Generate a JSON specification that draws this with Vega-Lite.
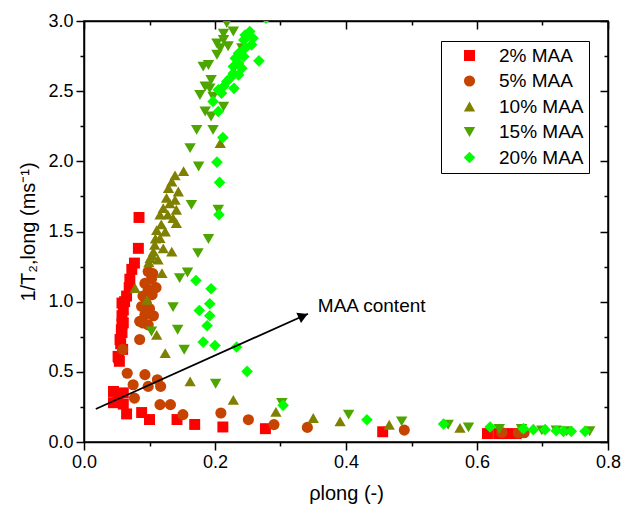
{
  "$schema": "https://vega.github.io/schema/vega-lite/v6.json",
  "width": 524,
  "height": 421,
  "autosize": {"type": "none"},
  "padding": {"left": 84, "top": 21, "right": 13, "bottom": 70},
  "background": "white",
  "config": {
    "font": "Liberation Sans",
    "view": {"stroke": "black", "strokeWidth": 1.5},
    "axis": {"grid": false, "domainColor": "black", "domainWidth": 1.5, "tickColor": "black", "tickWidth": 1.5, "labelColor": "black", "titleColor": "black", "labelFontSize": 18, "titleFontSize": 20, "titleFontWeight": "normal", "labelOverlap": false, "labelFlush": false}
  },
  "datasets": {
    "pts": [
      {"s":"2% MAA","x":0.084,"y":1.60},{"s":"2% MAA","x":0.083,"y":1.38},{"s":"2% MAA","x":0.077,"y":1.275},{"s":"2% MAA","x":0.073,"y":1.23},{"s":"2% MAA","x":0.070,"y":1.16},{"s":"2% MAA","x":0.069,"y":1.10},{"s":"2% MAA","x":0.065,"y":1.04},{"s":"2% MAA","x":0.062,"y":1.00},{"s":"2% MAA","x":0.058,"y":0.99},{"s":"2% MAA","x":0.060,"y":0.94},{"s":"2% MAA","x":0.058,"y":0.90},{"s":"2% MAA","x":0.060,"y":0.85},{"s":"2% MAA","x":0.058,"y":0.84},{"s":"2% MAA","x":0.057,"y":0.80},{"s":"2% MAA","x":0.058,"y":0.78},{"s":"2% MAA","x":0.055,"y":0.73},{"s":"2% MAA","x":0.056,"y":0.70},{"s":"2% MAA","x":0.059,"y":0.66},{"s":"2% MAA","x":0.052,"y":0.61},{"s":"2% MAA","x":0.053,"y":0.60},{"s":"2% MAA","x":0.054,"y":0.575},{"s":"2% MAA","x":0.045,"y":0.36},{"s":"2% MAA","x":0.060,"y":0.35},{"s":"2% MAA","x":0.052,"y":0.30},{"s":"2% MAA","x":0.045,"y":0.28},{"s":"2% MAA","x":0.060,"y":0.27},{"s":"2% MAA","x":0.065,"y":0.20},{"s":"2% MAA","x":0.088,"y":0.21},{"s":"2% MAA","x":0.100,"y":0.16},{"s":"2% MAA","x":0.142,"y":0.16},{"s":"2% MAA","x":0.169,"y":0.125},{"s":"2% MAA","x":0.212,"y":0.107},{"s":"2% MAA","x":0.277,"y":0.095},{"s":"2% MAA","x":0.456,"y":0.073},{"s":"2% MAA","x":0.616,"y":0.06},{"s":"2% MAA","x":0.633,"y":0.06},{"s":"2% MAA","x":0.645,"y":0.06},{"s":"2% MAA","x":0.660,"y":0.06},
      {"s":"5% MAA","x":0.098,"y":1.215},{"s":"5% MAA","x":0.103,"y":1.16},{"s":"5% MAA","x":0.093,"y":1.13},{"s":"5% MAA","x":0.098,"y":1.085},{"s":"5% MAA","x":0.105,"y":1.20},{"s":"5% MAA","x":0.110,"y":1.10},{"s":"5% MAA","x":0.090,"y":1.04},{"s":"5% MAA","x":0.104,"y":1.05},{"s":"5% MAA","x":0.095,"y":0.99},{"s":"5% MAA","x":0.100,"y":0.95},{"s":"5% MAA","x":0.088,"y":0.966},{"s":"5% MAA","x":0.093,"y":0.907},{"s":"5% MAA","x":0.106,"y":0.90},{"s":"5% MAA","x":0.090,"y":0.848},{"s":"5% MAA","x":0.085,"y":0.86},{"s":"5% MAA","x":0.098,"y":0.835},{"s":"5% MAA","x":0.085,"y":0.73},{"s":"5% MAA","x":0.059,"y":0.66},{"s":"5% MAA","x":0.066,"y":0.49},{"s":"5% MAA","x":0.093,"y":0.48},{"s":"5% MAA","x":0.112,"y":0.444},{"s":"5% MAA","x":0.075,"y":0.408},{"s":"5% MAA","x":0.098,"y":0.396},{"s":"5% MAA","x":0.117,"y":0.396},{"s":"5% MAA","x":0.077,"y":0.313},{"s":"5% MAA","x":0.116,"y":0.266},{"s":"5% MAA","x":0.132,"y":0.266},{"s":"5% MAA","x":0.151,"y":0.195},{"s":"5% MAA","x":0.209,"y":0.207},{"s":"5% MAA","x":0.251,"y":0.159},{"s":"5% MAA","x":0.290,"y":0.124},{"s":"5% MAA","x":0.341,"y":0.104},{"s":"5% MAA","x":0.489,"y":0.085},{"s":"5% MAA","x":0.638,"y":0.068},{"s":"5% MAA","x":0.663,"y":0.064},{"s":"5% MAA","x":0.672,"y":0.066},
      {"s":"10% MAA","x":0.152,"y":1.93},{"s":"10% MAA","x":0.139,"y":1.90},{"s":"10% MAA","x":0.134,"y":1.856},{"s":"10% MAA","x":0.129,"y":1.81},{"s":"10% MAA","x":0.144,"y":1.785},{"s":"10% MAA","x":0.126,"y":1.74},{"s":"10% MAA","x":0.139,"y":1.726},{"s":"10% MAA","x":0.131,"y":1.70},{"s":"10% MAA","x":0.121,"y":1.667},{"s":"10% MAA","x":0.141,"y":1.655},{"s":"10% MAA","x":0.116,"y":1.62},{"s":"10% MAA","x":0.128,"y":1.62},{"s":"10% MAA","x":0.136,"y":1.595},{"s":"10% MAA","x":0.141,"y":1.56},{"s":"10% MAA","x":0.118,"y":1.55},{"s":"10% MAA","x":0.111,"y":1.51},{"s":"10% MAA","x":0.124,"y":1.50},{"s":"10% MAA","x":0.116,"y":1.453},{"s":"10% MAA","x":0.109,"y":1.45},{"s":"10% MAA","x":0.108,"y":1.405},{"s":"10% MAA","x":0.121,"y":1.38},{"s":"10% MAA","x":0.134,"y":1.357},{"s":"10% MAA","x":0.106,"y":1.357},{"s":"10% MAA","x":0.104,"y":1.33},{"s":"10% MAA","x":0.101,"y":1.31},{"s":"10% MAA","x":0.113,"y":1.30},{"s":"10% MAA","x":0.099,"y":1.28},{"s":"10% MAA","x":0.119,"y":1.204},{"s":"10% MAA","x":0.078,"y":1.097},{"s":"10% MAA","x":0.096,"y":1.013},{"s":"10% MAA","x":0.111,"y":0.764},{"s":"10% MAA","x":0.124,"y":0.634},{"s":"10% MAA","x":0.162,"y":0.432},{"s":"10% MAA","x":0.228,"y":0.30},{"s":"10% MAA","x":0.293,"y":0.214},{"s":"10% MAA","x":0.350,"y":0.171},{"s":"10% MAA","x":0.391,"y":0.147},{"s":"10% MAA","x":0.466,"y":0.123},{"s":"10% MAA","x":0.574,"y":0.10},{"s":"10% MAA","x":0.208,"y":2.13},
      {"s":"15% MAA","x":0.218,"y":2.985},{"s":"15% MAA","x":0.228,"y":2.925},{"s":"15% MAA","x":0.213,"y":2.91},{"s":"15% MAA","x":0.213,"y":2.865},{"s":"15% MAA","x":0.203,"y":2.84},{"s":"15% MAA","x":0.220,"y":2.82},{"s":"15% MAA","x":0.208,"y":2.806},{"s":"15% MAA","x":0.203,"y":2.76},{"s":"15% MAA","x":0.241,"y":2.806},{"s":"15% MAA","x":0.190,"y":2.687},{"s":"15% MAA","x":0.182,"y":2.675},{"s":"15% MAA","x":0.194,"y":2.58},{"s":"15% MAA","x":0.185,"y":2.533},{"s":"15% MAA","x":0.192,"y":2.52},{"s":"15% MAA","x":0.177,"y":2.473},{"s":"15% MAA","x":0.197,"y":2.46},{"s":"15% MAA","x":0.213,"y":2.39},{"s":"15% MAA","x":0.185,"y":2.355},{"s":"15% MAA","x":0.194,"y":2.32},{"s":"15% MAA","x":0.197,"y":2.224},{"s":"15% MAA","x":0.172,"y":2.224},{"s":"15% MAA","x":0.162,"y":2.094},{"s":"15% MAA","x":0.175,"y":1.963},{"s":"15% MAA","x":0.164,"y":1.69},{"s":"15% MAA","x":0.205,"y":1.655},{"s":"15% MAA","x":0.190,"y":1.446},{"s":"15% MAA","x":0.174,"y":1.346},{"s":"15% MAA","x":0.158,"y":1.208},{"s":"15% MAA","x":0.146,"y":1.168},{"s":"15% MAA","x":0.136,"y":0.961},{"s":"15% MAA","x":0.143,"y":0.80},{"s":"15% MAA","x":0.103,"y":0.788},{"s":"15% MAA","x":0.153,"y":0.657},{"s":"15% MAA","x":0.201,"y":0.415},{"s":"15% MAA","x":0.302,"y":0.278},{"s":"15% MAA","x":0.404,"y":0.195},{"s":"15% MAA","x":0.485,"y":0.147},{"s":"15% MAA","x":0.556,"y":0.123},{"s":"15% MAA","x":0.587,"y":0.104},{"s":"15% MAA","x":0.634,"y":0.093},{"s":"15% MAA","x":0.668,"y":0.093},{"s":"15% MAA","x":0.699,"y":0.083},{"s":"15% MAA","x":0.721,"y":0.083},{"s":"15% MAA","x":0.737,"y":0.076},{"s":"15% MAA","x":0.772,"y":0.076},
      {"s":"20% MAA","x":0.206,"y":1.62},{"s":"20% MAA","x":0.171,"y":1.151},{"s":"20% MAA","x":0.194,"y":1.092},{"s":"20% MAA","x":0.192,"y":0.985},{"s":"20% MAA","x":0.176,"y":0.937},{"s":"20% MAA","x":0.192,"y":0.90},{"s":"20% MAA","x":0.188,"y":0.828},{"s":"20% MAA","x":0.182,"y":0.712},{"s":"20% MAA","x":0.200,"y":0.688},{"s":"20% MAA","x":0.233,"y":0.677},{"s":"20% MAA","x":0.249,"y":0.503},{"s":"20% MAA","x":0.304,"y":0.261},{"s":"20% MAA","x":0.432,"y":0.159},{"s":"20% MAA","x":0.549,"y":0.128},{"s":"20% MAA","x":0.620,"y":0.107},{"s":"20% MAA","x":0.671,"y":0.095},{"s":"20% MAA","x":0.686,"y":0.088},{"s":"20% MAA","x":0.704,"y":0.088},{"s":"20% MAA","x":0.721,"y":0.080},{"s":"20% MAA","x":0.732,"y":0.076},{"s":"20% MAA","x":0.744,"y":0.076},{"s":"20% MAA","x":0.765,"y":0.076},{"s":"20% MAA","x":0.253,"y":2.925},{"s":"20% MAA","x":0.246,"y":2.90},{"s":"20% MAA","x":0.258,"y":2.877},{"s":"20% MAA","x":0.244,"y":2.865},{"s":"20% MAA","x":0.256,"y":2.83},{"s":"20% MAA","x":0.246,"y":2.806},{"s":"20% MAA","x":0.236,"y":2.77},{"s":"20% MAA","x":0.231,"y":2.735},{"s":"20% MAA","x":0.244,"y":2.747},{"s":"20% MAA","x":0.267,"y":2.716},{"s":"20% MAA","x":0.236,"y":2.70},{"s":"20% MAA","x":0.228,"y":2.675},{"s":"20% MAA","x":0.241,"y":2.664},{"s":"20% MAA","x":0.228,"y":2.628},{"s":"20% MAA","x":0.236,"y":2.616},{"s":"20% MAA","x":0.223,"y":2.593},{"s":"20% MAA","x":0.218,"y":2.568},{"s":"20% MAA","x":0.213,"y":2.533},{"s":"20% MAA","x":0.205,"y":2.51},{"s":"20% MAA","x":0.229,"y":2.52},{"s":"20% MAA","x":0.210,"y":2.486},{"s":"20% MAA","x":0.197,"y":2.426},{"s":"20% MAA","x":0.205,"y":2.355},{"s":"20% MAA","x":0.212,"y":2.17},{"s":"20% MAA","x":0.203,"y":1.994},{"s":"20% MAA","x":0.207,"y":1.85},{"s":"20% MAA","x":0.278,"y":3.02}
    ],
    "arrow": [{"x":0.018,"y":0.235,"x2":0.342,"y2":0.914,"hx":0.3346,"hy":0.8986,"tx":0.357,"ty":0.97,"label":"MAA content"}]
  },
  "resolve": {"axis": {"x": "independent", "y": "independent"}},
  "layer": [
    {
      "data": {"name": "pts"},
      "mark": {"type": "point", "filled": true, "opacity": 1, "clip": true},
      "encoding": {
        "x": {"field": "x", "type": "quantitative", "scale": {"domain": [0, 0.8], "nice": false, "zero": false},
          "axis": {"orient": "bottom", "title": "ρlong (-)", "titlePadding": 12,
            "values": [0,0.1,0.2,0.3,0.4,0.5,0.6,0.7,0.8],
            "labelExpr": "abs(datum.value*5 - round(datum.value*5)) < 0.001 ? format(datum.value, '.1f') : ''",
            "tickSize": {"condition": {"test": "abs(datum.value*5 - round(datum.value*5)) < 0.001", "value": 8}, "value": 4},
            "labelPadding": 3}},
        "y": {"field": "y", "type": "quantitative", "scale": {"domain": [0, 3], "nice": false, "zero": false},
          "axis": {"orient": "left", "title": "1/T₂,long (ms⁻¹)", "titlePadding": 9,
            "values": [0,0.25,0.5,0.75,1,1.25,1.5,1.75,2,2.25,2.5,2.75,3],
            "labelExpr": "abs(datum.value*2 - round(datum.value*2)) < 0.001 ? format(datum.value, '.1f') : ''",
            "tickSize": {"condition": {"test": "abs(datum.value*2 - round(datum.value*2)) < 0.001", "value": 8}, "value": 4},
            "labelPadding": 3}},
        "color": {"field": "s", "type": "nominal",
          "scale": {"domain": ["2% MAA","5% MAA","10% MAA","15% MAA","20% MAA"], "range": ["#FF0000","#C74400","#808000","#4DA600","#00FF00"]},
          "legend": {"title": null, "orient": "none", "legendX": 357, "legendY": 20, "strokeColor": "black", "fillColor": "white", "padding": 5, "symbolOffset": 14, "labelOffset": 20, "labelFontSize": 19, "labelColor": "black", "rowPadding": 5.5, "symbolStrokeWidth": 0}},
        "shape": {"field": "s", "type": "nominal",
          "scale": {"domain": ["2% MAA","5% MAA","10% MAA","15% MAA","20% MAA"], "range": ["square","circle","triangle-up","triangle-down","diamond"]}},
        "size": {"field": "s", "type": "nominal",
          "scale": {"domain": ["2% MAA","5% MAA","10% MAA","15% MAA","20% MAA"], "range": [120,135,190,190,190]}}
      }
    },
    {
      "data": {"name": "arrow"},
      "mark": {"type": "rule", "color": "black", "strokeWidth": 1.8},
      "encoding": {
        "x": {"field": "x", "type": "quantitative", "axis": {"orient": "top", "title": null, "labels": false,
            "values": [0,0.1,0.2,0.3,0.4,0.5,0.6,0.7,0.8],
            "tickSize": {"condition": {"test": "abs(datum.value*5 - round(datum.value*5)) < 0.001", "value": -8}, "value": -4}}},
        "y": {"field": "y", "type": "quantitative", "axis": {"orient": "right", "title": null, "labels": false,
            "values": [0,0.25,0.5,0.75,1,1.25,1.5,1.75,2,2.25,2.5,2.75,3],
            "tickSize": {"condition": {"test": "abs(datum.value*2 - round(datum.value*2)) < 0.001", "value": -8}, "value": -4}}},
        "x2": {"field": "x2"},
        "y2": {"field": "y2"}
      }
    },
    {
      "data": {"name": "arrow"},
      "mark": {"type": "point", "shape": "triangle-right", "filled": true, "color": "black", "opacity": 1, "size": 130, "angle": -24},
      "encoding": {
        "x": {"field": "hx", "type": "quantitative", "axis": null},
        "y": {"field": "hy", "type": "quantitative", "axis": null}
      }
    },
    {
      "data": {"name": "arrow"},
      "mark": {"type": "text", "align": "left", "baseline": "middle", "fontSize": 19, "color": "black"},
      "encoding": {
        "x": {"field": "tx", "type": "quantitative", "axis": null},
        "y": {"field": "ty", "type": "quantitative", "axis": null},
        "text": {"field": "label"}
      }
    }
  ]
}
